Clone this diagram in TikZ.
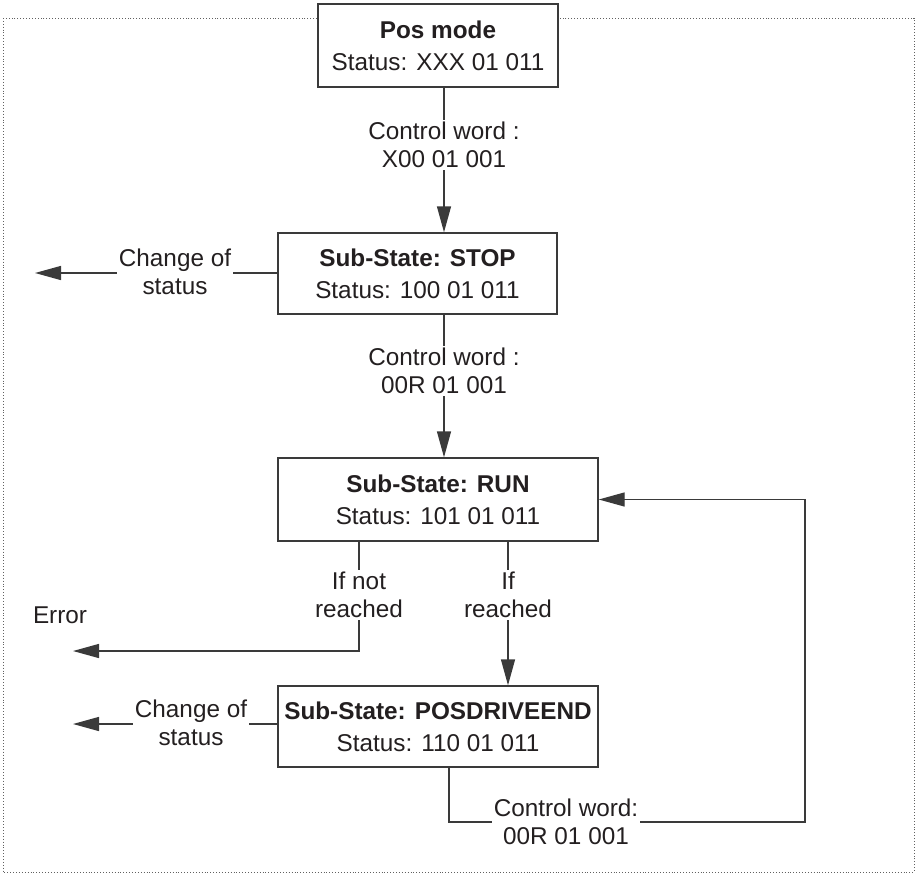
\documentclass[tikz,border=0pt]{standalone}
\usepackage{fontspec}
\setmainfont{Liberation Sans}
\usetikzlibrary{arrows.meta,calc}
\definecolor{ln}{HTML}{3A3A3A}
\definecolor{tx}{HTML}{231F20}
\begin{document}
\begin{tikzpicture}[x=1pt,y=-1pt,
  statebox/.style={draw=ln,line width=1.4pt,fill=white,align=center,text=tx,
    font=\fontsize{24.3}{32}\selectfont,inner sep=0pt},
  lbl/.style={align=center,text=tx,font=\fontsize{24.3}{28}\selectfont,inner sep=2pt},
  conn/.style={draw=ln,line width=1.4pt},
  arr/.style={conn,-{Triangle[length=26pt,width=14pt]}},
  frame/.style={draw=ln!80,line width=0.9pt,dotted}]
\useasboundingbox (0,0) rectangle (917,875);
\draw[frame] (3,18) rectangle (914,872);

\node[statebox,minimum width=240pt,minimum height=83pt] (pos) at (438,45.5)
  {\textbf{Pos mode}\\Status: XXX 01 011};
\node[statebox,minimum width=279pt,minimum height=81pt] (stop) at (417.5,273.5)
  {\textbf{Sub-State: STOP}\\Status: 100 01 011};
\node[statebox,minimum width=320pt,minimum height=83pt] (run) at (438,499.5)
  {\textbf{Sub-State: RUN}\\Status: 101 01 011};
\node[statebox,minimum width=320pt,minimum height=81pt] (posd) at (438,726.5)
  {\textbf{Sub-State: POSDRIVEEND}\\Status: 110 01 011};

\node[lbl] (cw1) at (444,145) {Control word :\\X00 01 001};
\node[lbl] (chg1) at (175,272) {Change of\\status};
\node[lbl] (cw2) at (444,371) {Control word :\\00R 01 001};
\node[lbl] (ifnot) at (359,595) {If not\\reached};
\node[lbl] (ifr) at (508,595) {If\\reached};
\node[lbl] (err) at (60,615) {Error};
\node[lbl] (chg2) at (191,723) {Change of\\status};
\node[lbl] (cw3) at (566,822) {Control word:\\00R 01 001};

\coordinate (c1) at (35,273);
\coordinate (c2) at (73,651);
\coordinate (c3) at (73,724);
\coordinate (c4) at (805,822);

\draw[conn] (pos.south -| cw1) -- (cw1.north);
\draw[arr] (cw1.south) -- (stop.north -| cw1);
\draw[conn] (stop.west |- c1) -- (chg1.east |- c1);
\draw[arr] (chg1.west |- c1) -- (c1);
\draw[conn] (stop.south -| cw2) -- (cw2.north);
\draw[arr] (cw2.south) -- (run.north -| cw2);
\draw[conn] (run.south -| ifnot) -- (ifnot.north);
\draw[arr] (ifnot.south) -- (ifnot.south |- c2) -- (c2);
\draw[conn] (run.south -| ifr) -- (ifr.north);
\draw[arr] (ifr.south) -- (posd.north -| ifr);
\draw[conn] (posd.west |- c3) -- (chg2.east |- c3);
\draw[arr] (chg2.west |- c3) -- (c3);
\draw[conn] (449,767) |- (cw3.west);
\draw[arr] (cw3.east) -- (c4) |- (run.east);
\end{tikzpicture}
\end{document}
